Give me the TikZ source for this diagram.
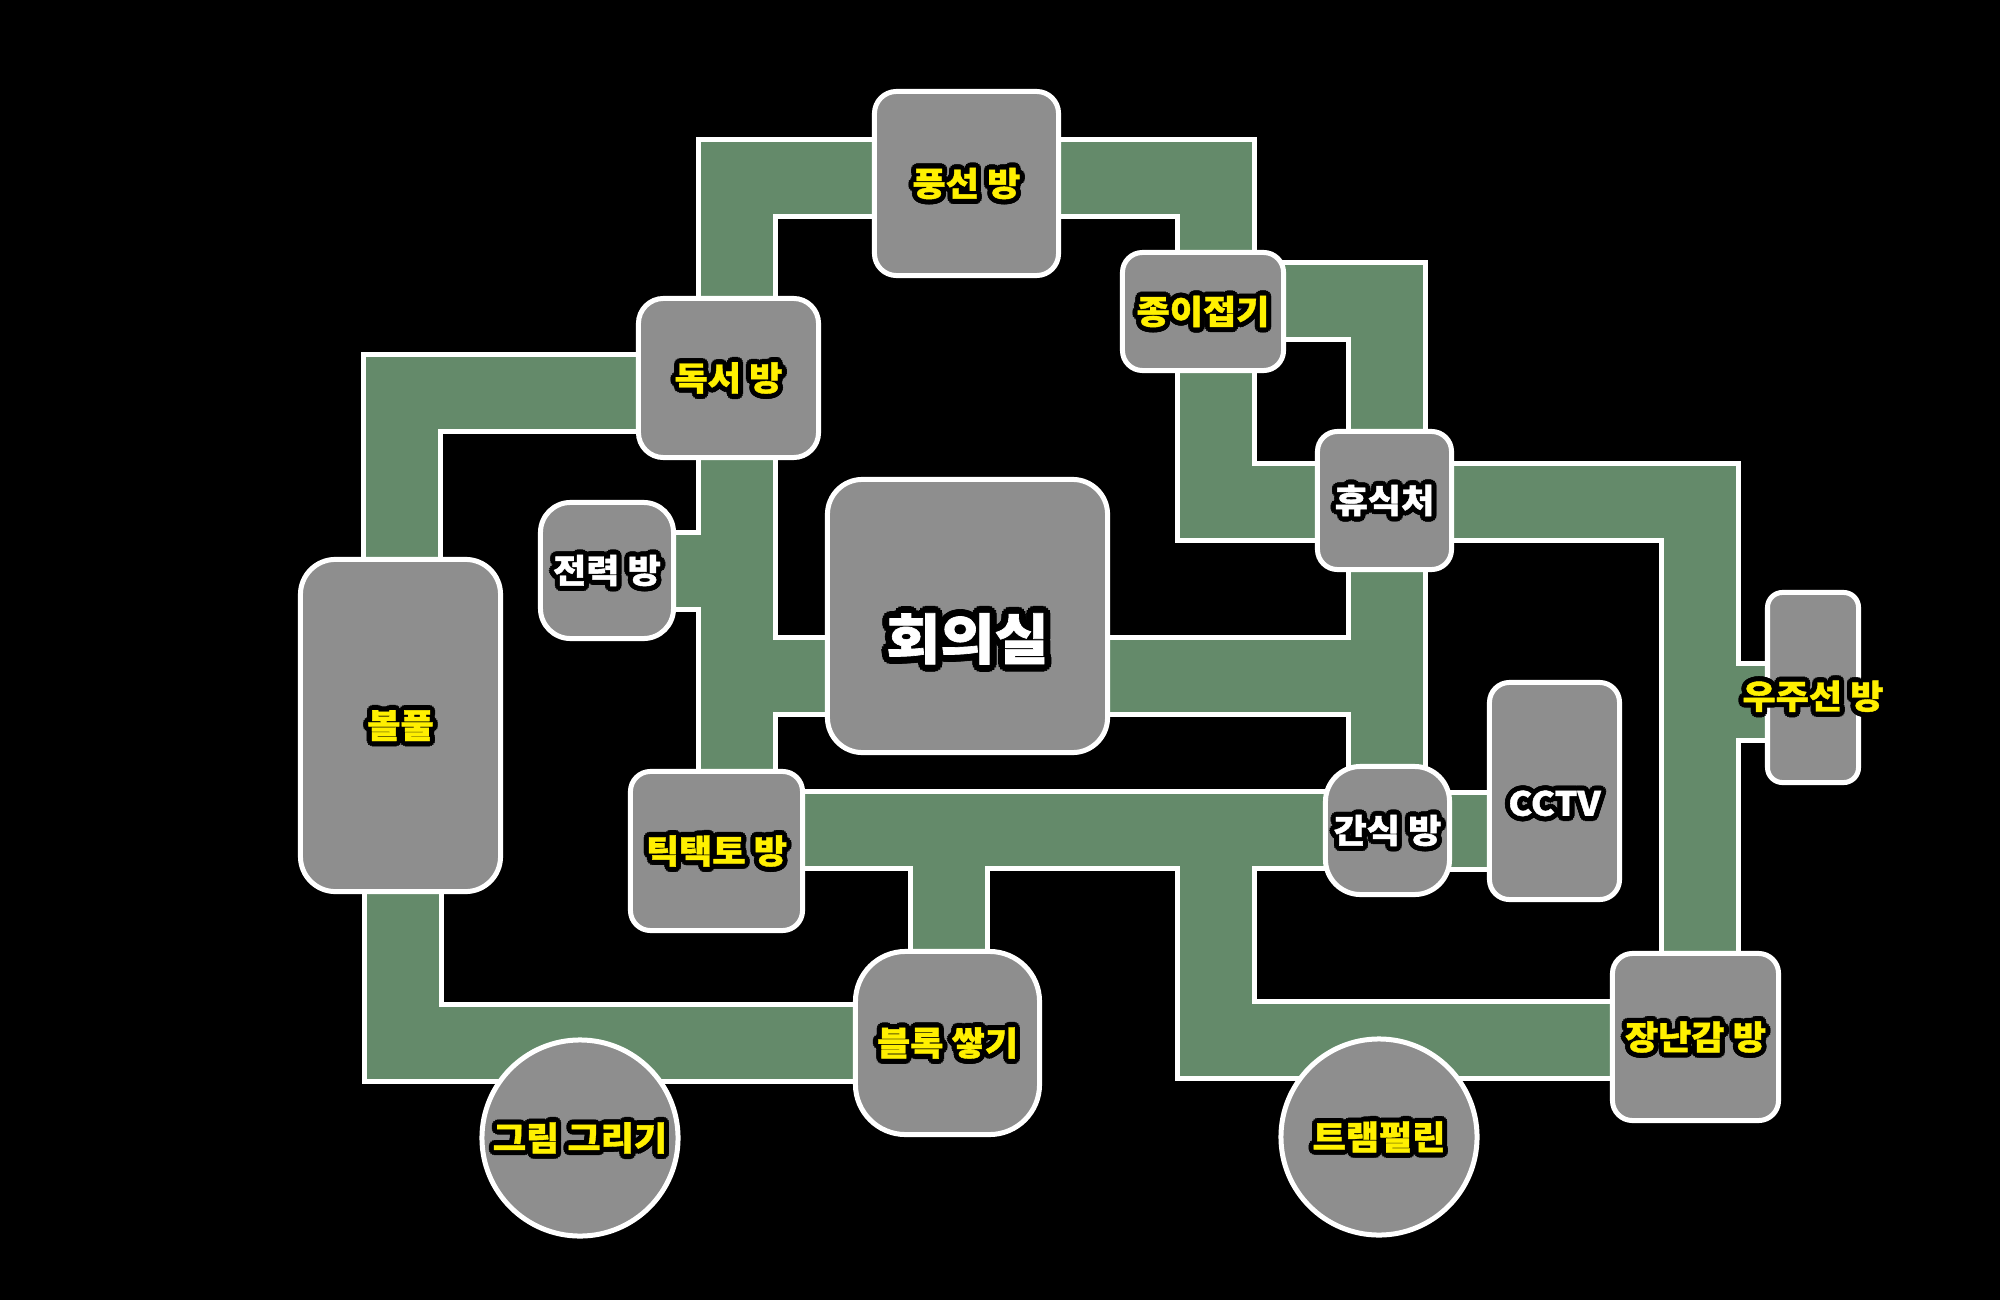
\documentclass[tikz,border=0pt]{standalone}
\usepackage{fontspec}
\newfontfamily\krf{Noto Sans CJK KR}[FakeStretch=1.08, BoldFeatures={FakeBold=1.2}]
\definecolor{corrgreen}{HTML}{648A6A}
\definecolor{roomgray}{HTML}{8E8E8E}
\definecolor{labyellow}{HTML}{FFF000}
\pgfdeclarelayer{bglayer}
\pgfdeclarelayer{corrlayer}
\pgfsetlayers{bglayer,corrlayer,main}
\newdimen\orr
\newcommand\ocp[3]{\rlap{\kern#1\orr\raise#2\orr\hbox{\color{black}#3}}}
\newcommand\olab[3]{{\orr=#2\relax
 \ocp{1}{0}{#3}\ocp{.924}{.383}{#3}\ocp{.707}{.707}{#3}\ocp{.383}{.924}{#3}%
 \ocp{0}{1}{#3}\ocp{-.383}{.924}{#3}\ocp{-.707}{.707}{#3}\ocp{-.924}{.383}{#3}%
 \ocp{-1}{0}{#3}\ocp{-.924}{-.383}{#3}\ocp{-.707}{-.707}{#3}\ocp{-.383}{-.924}{#3}%
 \ocp{0}{-1}{#3}\ocp{.383}{-.924}{#3}\ocp{.707}{-.707}{#3}\ocp{.924}{-.383}{#3}%
 \textcolor{#1}{#3}}}
% \lab[vertical shift]{colour}{text}
\newcommand\lab[3][0pt]{\vphantom{방}\raisebox{#1}[0pt][0pt]{\makebox[0pt]{\olab{#2}{1.45pt}{#3}}}}
\tikzset{
  room/.style={draw=white, line width=0.05cm, fill=roomgray, inner sep=0pt,
    font=\krf\bfseries\fontsize{9.5}{11}\selectfont},
  roundroom/.style={room, circle, minimum size=1.96cm},
  wallline/.style={draw=white, line width=0.82cm, line join=miter},
  floorline/.style={draw=corrgreen, line width=0.72cm, line join=miter},
}
\newcommand\corridors[1]{%
  \draw[#1] (aA |- dok.center) -- (aA) -- (aA -| pf.center);
  \draw[#1] (aB -| pf.center) -- (aB) -- (aB |- jo.center);
  \draw[#1] (aC -| jo.center) -- (aC) -- (aC |- hy.center);
  \draw[#1] (aD |- jo.center) -- (aD) -- (aD -| hy.center);
  \draw[#1] (aE -| hy.center) -- (aE) -- (aE |- jn.center);
  \draw[#1] (aEs) -- (aEs -| uj.center);
  \draw[#1] (aG |- hy.center) -- (aG |- gs.center);
  \draw[#1] (aG -| hoe.center) -- (aG);
  \draw[#1] (aH |- dok.center) -- (aH |- tt.center);
  \draw[#1] (aH) -- (aH -| hoe.center);
  \draw[#1] (aI -| jr.center) -- (aI);
  \draw[#1] (aJ -| dok.center) -- (aJ) -- (aJ |- bp.center);
  \draw[#1] (aK |- bp.center) -- (aK) -- (aK -| bl.center);
  \draw[#1] (aL -| tt.center) -- (aL -| gs.center);
  \draw[#1] (aM) -- (aM |- bl.center);
  \draw[#1] (aN0) -- (aN) -- (aN -| jn.center);
  \draw[#1] (aO) -- (aO -| cc.center);
}
\begin{document}
\begin{tikzpicture}[x=0.01cm, y=-0.01cm]
\begin{pgfonlayer}{bglayer}
  \fill[black] (0,0) rectangle (2000,1300);
\end{pgfonlayer}
\useasboundingbox (0,0) rectangle (2000,1300);

% rooms
\node[room, rounded corners=0.22cm, minimum width=1.84cm, minimum height=1.84cm] (pf) at (966.5,183.5) {\lab{labyellow}{풍선 방}};
\node[room, rounded corners=0.2cm, minimum width=1.61cm, minimum height=1.18cm] (jo) at (1203,311.5) {\lab{labyellow}{종이접기}};
\node[room, rounded corners=0.25cm, minimum width=1.80cm, minimum height=1.59cm] (dok) at (728.5,378) {\lab{labyellow}{독서 방}};
\node[room, rounded corners=0.2cm, minimum width=1.34cm, minimum height=1.38cm] (hy) at (1384.5,500.5) {\lab{white}{휴식처}};
\node[room, rounded corners=0.35cm, minimum width=2.80cm, minimum height=2.73cm,
  font=\krf\bfseries\fontsize{15.5}{18}\selectfont] (hoe) at (967.5,616)
  {\vphantom{방}\raisebox{-6.5pt}[0pt][0pt]{\makebox[0pt]{\olab{white}{2pt}{회의실}}}};
\node[room, rounded corners=0.3cm, minimum width=1.33cm, minimum height=1.36cm] (jr) at (607,570.5) {\lab{white}{전력 방}};
\node[room, rounded corners=0.35cm, minimum width=2.00cm, minimum height=3.32cm] (bp) at (400.5,725.5) {\lab{labyellow}{볼풀}};
\node[room, rounded corners=0.2cm, minimum width=1.72cm, minimum height=1.59cm] (tt) at (716.5,851) {\lab{labyellow}{틱택토 방}};
\node[room, rounded corners=0.35cm, minimum width=1.24cm, minimum height=1.28cm] (gs) at (1387.5,830.5) {\lab{white}{간식 방}};
\node[room, rounded corners=0.2cm, minimum width=1.30cm, minimum height=2.17cm] (cc) at (1554.5,791) {\lab[-3.5pt]{white}{CCTV}};
\node[room, rounded corners=0.15cm, minimum width=0.91cm, minimum height=1.90cm] (uj) at (1813,687.5) {\lab[-2.5pt]{labyellow}{우주선 방}};
\node[room, rounded corners=0.2cm, minimum width=1.66cm, minimum height=1.67cm] (jn) at (1695.5,1037) {\lab{labyellow}{장난감 방}};
\node[room, rounded corners=0.5cm, minimum width=1.84cm, minimum height=1.83cm] (bl) at (947.5,1043) {\lab{labyellow}{블록 쌓기}};
\node[roundroom] (gr) at (580,1138) {\lab{labyellow}{그림 그리기}};
\node[roundroom] (tr) at (1379,1137) {\lab{labyellow}{트램펄린}};

% corridor bend points
\coordinate (aA) at (737,178);
\coordinate (aB) at (1216,178);
\coordinate (aC) at (1387,301);
\coordinate (aD) at (1216,502);
\coordinate (aE) at (1700,502);
\coordinate (aEs) at (1700,702);
\coordinate (aG) at (1387,676);
\coordinate (aH) at (737,676);
\coordinate (aI) at (737,571);
\coordinate (aJ) at (402,393);
\coordinate (aK) at (403,1043);
\coordinate (aL) at (716,830);
\coordinate (aM) at (949,830);
\coordinate (aN0) at (1216,830);
\coordinate (aN) at (1216,1040);
\coordinate (aO) at (1387,831);

\begin{pgfonlayer}{corrlayer}
  \corridors{wallline}
  \corridors{floorline}
\end{pgfonlayer}
\end{tikzpicture}
\end{document}
